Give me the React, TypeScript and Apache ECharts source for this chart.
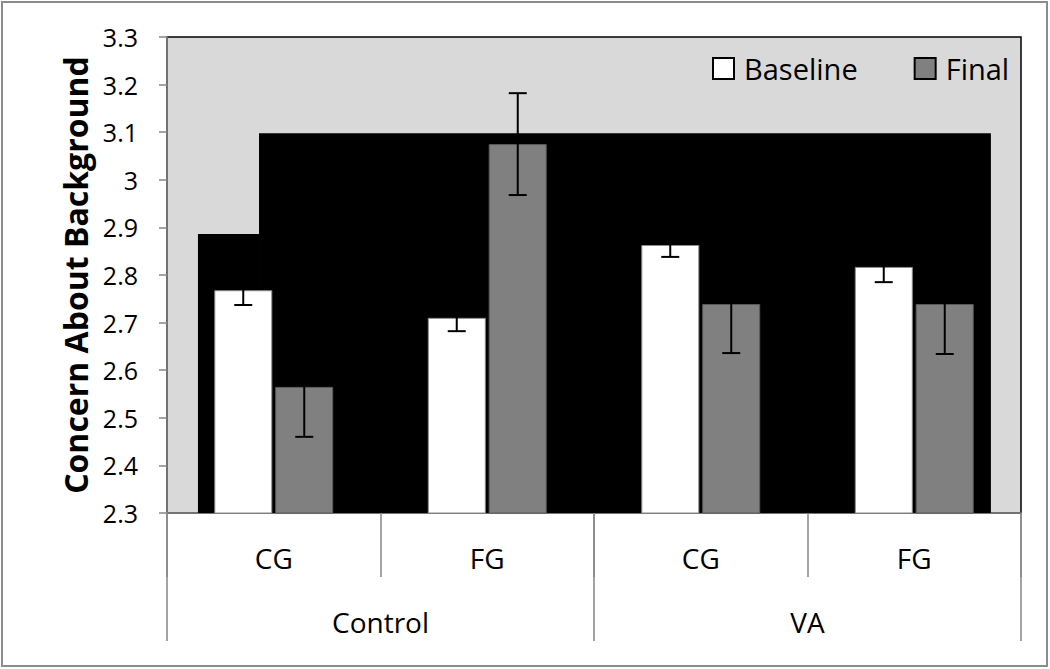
import React, { useEffect, useRef } from "react";
import * as echarts from "echarts";

const categories = ["CG", "FG", "CG", "FG"];
const groups = ["Control", "VA"];
const baselineValues = [2.768, 2.71, 2.863, 2.817];
const finalValues = [2.565, 3.075, 2.739, 2.739];
const baselineErrors = [0.031, 0.028, 0.025, 0.032];
const finalErrors = [0.105, 0.107, 0.103, 0.105];
// black backdrop steps: [xStart, xEnd, top] in category units
const blackStepStart = [-0.355, -0.069];
const blackStepEnd = [-0.069, 3.359];
const blackStepTop = [2.886, 3.098];
const yMin = 2.3;
const yMax = 3.3;
const yStep = 0.1;

const FONT = "'Open Sans', sans-serif";
const AXIS_GRAY = "#868686";

export default function App() {
  const ref = useRef<HTMLDivElement>(null);

  useEffect(() => {
    if (!ref.current) return;
    const chart = echarts.init(ref.current, null, { renderer: "svg" });

    const blackData = blackStepStart.map((s, i) => [s, blackStepEnd[i], blackStepTop[i]]);
    const errData = (vals: number[], errs: number[]) => vals.map((v, i) => [i, v, errs[i]]);

    const errRender = (offset: number) => (params: any, api: any) => {
      const i = api.value(0);
      const v = api.value(1);
      const e = api.value(2);
      const hi = api.coord([i, v + e]);
      const lo = api.coord([i, v - e]);
      const x = hi[0] + offset;
      const cap = 9;
      const style = { stroke: "#000", lineWidth: 2 };
      return {
        type: "group",
        children: [
          { type: "line", shape: { x1: x, y1: hi[1], x2: x, y2: lo[1] }, style },
          { type: "line", shape: { x1: x - cap, y1: hi[1], x2: x + cap, y2: hi[1] }, style },
          { type: "line", shape: { x1: x - cap, y1: lo[1], x2: x + cap, y2: lo[1] }, style },
        ],
      };
    };

    const option: any = {
      animation: false,
      backgroundColor: "#fff",
      textStyle: { fontFamily: FONT },
      graphic: [
        {
          type: "rect",
          shape: { x: 2, y: 2, width: 1045, height: 664 },
          style: { fill: "none", stroke: "#8c8c8c", lineWidth: 2 },
          z: 100,
          silent: true,
        },
      ],
      grid: {
        left: 167,
        right: 29,
        top: 37,
        bottom: 156,
        show: true,
        backgroundColor: "#d9d9d9",
        borderColor: "#000",
        borderWidth: 1.5,
      },
      legend: {
        left: 712,
        top: 54,
        padding: 0,
        itemWidth: 21,
        itemHeight: 21,
        itemGap: 56,
        icon: "rect",
        textStyle: { fontFamily: FONT, fontSize: 29, color: "#000", lineHeight: 29, padding: [0, 0, 0, 5] },
        data: [
          { name: "Baseline", itemStyle: { color: "#fff", borderColor: "#000", borderWidth: 2 } },
          { name: "Final", itemStyle: { color: "#808080", borderColor: "#000", borderWidth: 2 } },
        ],
      },
      xAxis: [
        {
          type: "category",
          data: categories,
          position: "bottom",
          axisLine: { show: true, lineStyle: { color: AXIS_GRAY, width: 1.5 } },
          axisTick: { show: true, length: 64, interval: 0, lineStyle: { color: AXIS_GRAY, width: 1.5 } },
          axisLabel: { margin: 31, fontSize: 28, color: "#000", fontFamily: FONT, interval: 0 },
          splitLine: { show: false },
        },
        {
          type: "category",
          data: groups,
          position: "bottom",
          axisLine: { show: false },
          axisTick: { show: true, length: 128, interval: 0, lineStyle: { color: AXIS_GRAY, width: 1.5 } },
          axisLabel: { margin: 95, fontSize: 28, color: "#000", fontFamily: FONT, interval: 0 },
          splitLine: { show: false },
        },
        {
          type: "value",
          show: false,
          min: -0.5,
          max: 3.5,
          splitLine: { show: false },
        },
      ],
      yAxis: {
        type: "value",
        min: yMin,
        max: yMax,
        interval: yStep,
        name: "Concern About Background",
        nameLocation: "middle",
        nameRotate: 90,
        nameGap: 73,
        nameTextStyle: { fontFamily: FONT, fontSize: 32, fontWeight: "bold", color: "#000" },
        axisLine: { show: true, onZero: false, lineStyle: { color: AXIS_GRAY, width: 1.5 } },
        axisTick: { show: true, length: 8, lineStyle: { color: AXIS_GRAY, width: 1.5 } },
        axisLabel: {
          margin: 29,
          fontSize: 25,
          color: "#000",
          fontFamily: FONT,
          formatter: (v: number) => String(+v.toFixed(1)),
        },
        splitLine: { show: false },
      },
      series: [
        {
          type: "custom",
          name: "backdrop",
          xAxisIndex: 2,
          z: 1,
          silent: true,
          encode: { x: [0, 1], y: 2 },
          data: blackData,
          renderItem: (params: any, api: any) => {
            const p0 = api.coord([api.value(0), api.value(2)]);
            const p1 = api.coord([api.value(1), yMin]);
            return {
              type: "rect",
              shape: { x: p0[0], y: p0[1], width: p1[0] - p0[0], height: p1[1] - p0[1] },
              style: { fill: "#000" },
            };
          },
        },
        {
          type: "bar",
          name: "Baseline",
          xAxisIndex: 0,
          z: 2,
          barWidth: 58,
          barGap: "5%",
          data: baselineValues,
          itemStyle: { color: "#fff", borderColor: "#8a8a8a", borderWidth: 1 },
        },
        {
          type: "bar",
          name: "Final",
          xAxisIndex: 0,
          z: 2,
          barWidth: 58,
          barGap: "5%",
          data: finalValues,
          itemStyle: { color: "#808080", borderColor: "#5a5a5a", borderWidth: 1 },
        },
        {
          type: "custom",
          name: "baselineErr",
          xAxisIndex: 0,
          z: 3,
          silent: true,
          encode: { x: 0, y: 1 },
          data: errData(baselineValues, baselineErrors),
          renderItem: errRender(-30.5),
        },
        {
          type: "custom",
          name: "finalErr",
          xAxisIndex: 0,
          z: 3,
          silent: true,
          encode: { x: 0, y: 1 },
          data: errData(finalValues, finalErrors),
          renderItem: errRender(30.5),
        },
      ],
    };

    chart.setOption(option);
    return () => chart.dispose();
  }, []);

  return (
    <div
      ref={ref}
      style={{ position: "fixed", left: 0, top: 0, width: 1050, height: 669 }}
    />
  );
}
